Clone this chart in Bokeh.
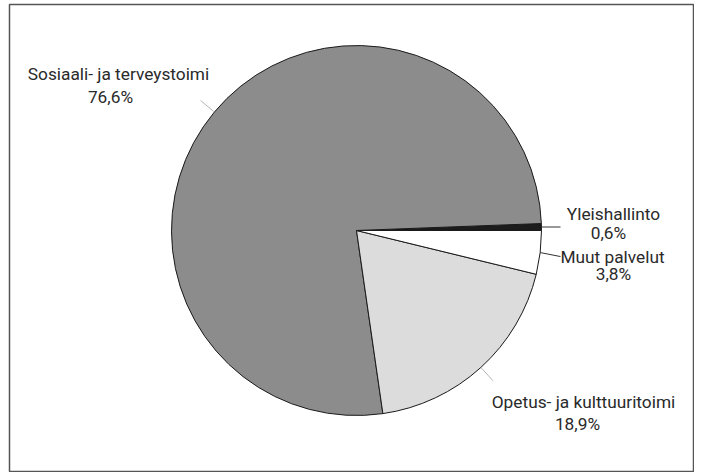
import numpy as np
from bokeh.plotting import figure
from bokeh.models import Range1d, ColumnDataSource
from bokeh.core.properties import value
from bokeh.embed import file_html
from bokeh.resources import INLINE

# ---- data (drawn counterclockwise from the 3 o'clock direction) ----
categories = ["Yleishallinto", "Sosiaali- ja terveystoimi",
              "Opetus- ja kulttuuritoimi", "Muut palvelut"]
shares = [0.6, 76.6, 18.9, 3.8]
share_labels = ["0,6%", "76,6%", "18,9%", "3,8%"]

# ---- styles / layout ----
slice_colors = ["#1c1c1c", "#8c8c8c", "#dcdcdc", "#ffffff"]
FONT = value("Roboto")
FSIZE = "17.3px"
# label centres (page px) for name line / value line
name_pos = [(613, 213), (118, 73), (583, 401), (612, 256)]
val_pos = [(608, 232), (110, 96), (577, 423), (613, 273)]
leader_kind = ["h", "r", "r", "h"]      # horizontal to label / radial
leader_color = ["#333333", "#b5b5b5", "#b5b5b5", "#333333"]
leader_dy = [0, 0, 0, -4]

W, H = 694, 472
p = figure(width=W, height=H, x_range=Range1d(9, 693), y_range=Range1d(-471, -4),
           output_backend="svg", toolbar_location=None,
           min_border_left=9, min_border_right=1, min_border_top=4, min_border_bottom=1)
p.axis.visible = False
p.grid.visible = False
p.outline_line_color = "#555555"
p.outline_line_width = 1.5
p.background_fill_color = "white"
p.border_fill_color = "white"

cx, cy, R = 356, -230, 185
vals = np.array(shares, dtype=float)
frac = vals / vals.sum()
ends = np.cumsum(frac) * 2 * np.pi
starts = ends - frac * 2 * np.pi
mids = (starts + ends) / 2

src = ColumnDataSource(dict(x=[cx] * 4, y=[cy] * 4, start=starts, end=ends,
                            color=slice_colors, cat=categories))
p.wedge(x="x", y="y", radius=R, start_angle="start", end_angle="end",
        fill_color="color", line_color="#1a1a1a", line_width=1, source=src)

# leader lines
for i, m in enumerate(mids):
    x0 = cx + R * np.cos(m)
    y0 = cy + R * np.sin(m)
    if leader_kind[i] == "r":
        x0 = cx + (R + 1) * np.cos(m)
        y0 = cy + (R + 1) * np.sin(m)
        x1 = cx + (R + 18) * np.cos(m)
        y1 = cy + (R + 18) * np.sin(m)
    else:
        x1 = 560
        y1 = y0 + leader_dy[i]
    p.line([x0, x1], [y0, y1], line_color=leader_color[i], line_width=1)

# labels
p.text(x=[q[0] for q in name_pos], y=[-q[1] for q in name_pos], text=categories,
       text_font=FONT, text_font_size=FSIZE, text_color="#2a2a2a",
       text_align="center", text_baseline="alphabetic")
p.text(x=[q[0] for q in val_pos], y=[-q[1] for q in val_pos], text=share_labels,
       text_font=FONT, text_font_size=FSIZE, text_color="#2a2a2a",
       text_align="center", text_baseline="alphabetic")

open("out.html", "w").write(file_html(p, INLINE))
